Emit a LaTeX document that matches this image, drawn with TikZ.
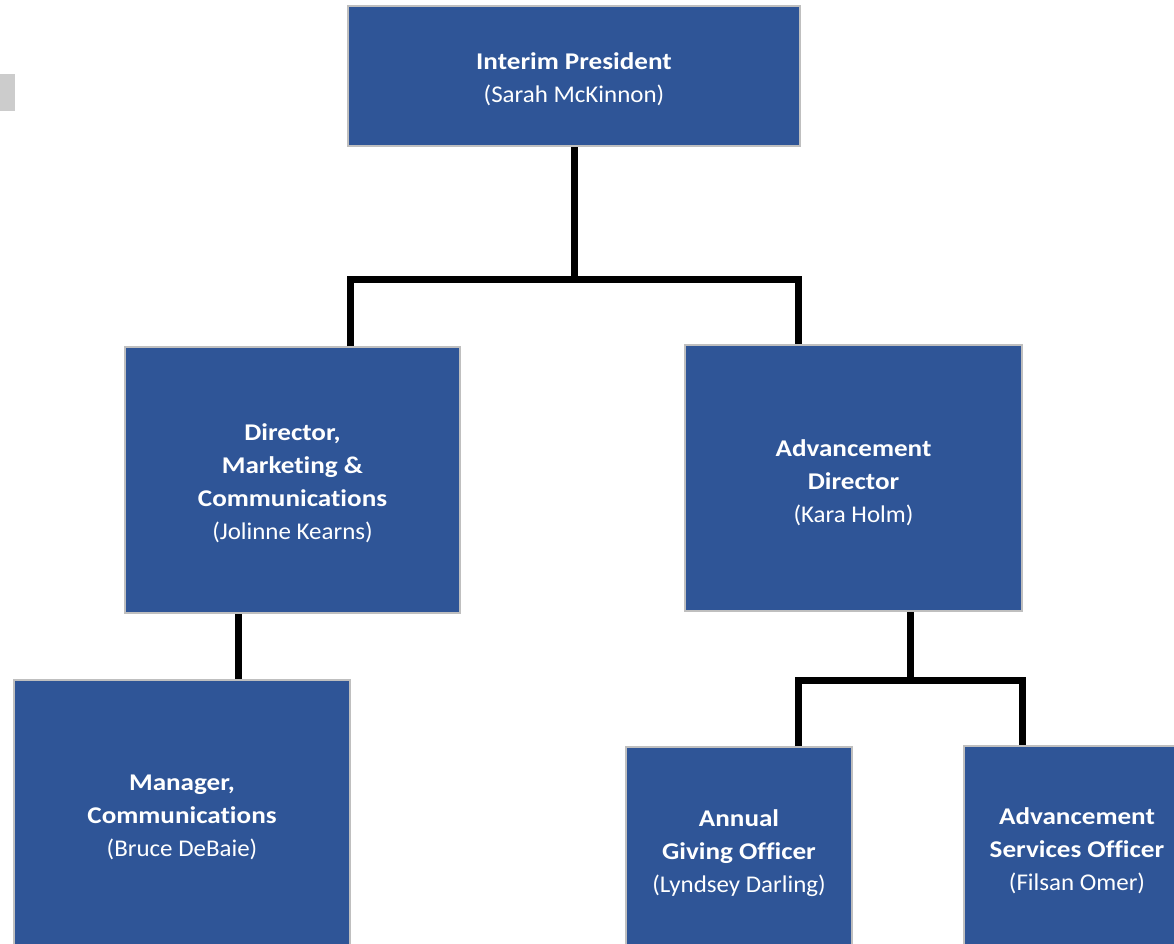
\documentclass[tikz,border=0pt]{standalone}
\usepackage{fontspec}
\setmainfont{Carlito}[Ligatures=NoCommon, FakeStretch=1.04,
  BoldFeatures={FakeStretch=1.13}]
\usetikzlibrary{calc}
\definecolor{boxblue}{HTML}{2F5597}
\definecolor{boxedge}{HTML}{BFBFBF}
\definecolor{tabgray}{HTML}{CCCCCC}
\tikzset{
  orgbox/.style={draw=boxedge, line width=2pt, fill=boxblue, inner sep=0pt},
  orgtext/.style={text=white, align=center, inner sep=0pt,
    font=\fontsize{24}{33}\selectfont},
  conn/.style={line width=7pt, black},
}
\newcommand{\ttl}[1]{\textbf{#1}}
\begin{document}
\begin{tikzpicture}[x=1pt,y=-1pt]
\useasboundingbox (0,0) rectangle (1174,943);
\clip (0,0) rectangle (1174,943);

% small grey tab at the left margin
\fill[tabgray] (0,74) rectangle (14.5,111);

% connector junctions
\coordinate (j1) at (574.5,279.5);
\coordinate (a1) at (350.5,279.5);
\coordinate (a2) at (798.5,279.5);
\coordinate (m1) at (238.5,612);
\coordinate (j2) at (910.5,680);
\coordinate (b1) at (798.5,680);
\coordinate (b2) at (1022.5,680);

% boxes
\node[orgbox, minimum width=452pt, minimum height=140pt] (pres) at (574,76) {};
\node[orgbox, minimum width=335pt, minimum height=266pt] (dm) at (292.5,480) {};
\node[orgbox, minimum width=337pt, minimum height=266pt] (ad) at (853.5,478) {};
\node[orgbox, minimum width=336pt, minimum height=272pt] (mc) at (182,816) {};
\node[orgbox, minimum width=226pt, minimum height=206pt] (ag) at (739,850) {};
\node[orgbox, minimum width=226pt, minimum height=206pt] (as) at (1077,849) {};

% box texts
\node[orgtext] (presT) at ([yshift=-3.5pt]pres.center)
  {\ttl{Interim President}\\(Sarah McKinnon)};
\node[orgtext] (dmT) at ([yshift=-3.5pt]dm.center)
  {\ttl{Director,}\\\ttl{Marketing \&}\\\ttl{Communications}\\(Jolinne Kearns)};
\node[orgtext] (adT) at ([yshift=-4.5pt]ad.center)
  {\ttl{Advancement}\\\ttl{Director}\\(Kara Holm)};
\node[orgtext] (mcT) at ([yshift=-1.5pt]mc.center)
  {\ttl{Manager,}\\\ttl{Communications}\\(Bruce DeBaie)};
\node[orgtext] (agT) at ([yshift=-3pt]ag.center)
  {\ttl{Annual}\\\ttl{Giving Officer}\\(Lyndsey Darling)};
\node[orgtext] (asT) at ([yshift=-2pt]as.center)
  {\ttl{Advancement}\\\ttl{Services Officer}\\(Filsan Omer)};

% connectors
\draw[conn] (pres.south -| j1) -- (j1);
\draw[conn] (a1 |- dm.north) -- (a1) -- (a2) -- (a2 |- ad.north);
\draw[conn] (m1 |- dm.south) -- (m1 |- mc.north);
\draw[conn] (j2 |- ad.south) -- (j2);
\draw[conn] (b1 |- ag.north) -- (b1) -- (b2) -- (b2 |- as.north);
\end{tikzpicture}
\end{document}
